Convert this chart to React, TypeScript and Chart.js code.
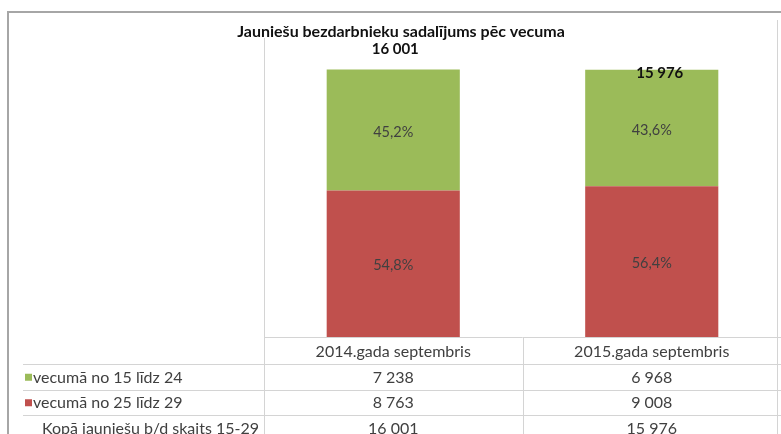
import React, { useEffect, useRef } from "react";
import { Chart, registerables } from "chart.js";

Chart.register(...registerables);

const chartTitle = "Jauniešu bezdarbnieku sadalījums pēc vecuma";
const categories = ["2014.gada septembris", "2015.gada septembris"];
const seriesYoung = "vecumā no 15 līdz 24";
const seriesOlder = "vecumā no 25 līdz 29";
const totalRowLabel = "Kopā jauniešu b/d skaits 15-29";
const youngValues = [7238, 6968];
const olderValues = [8763, 9008];
const totalValues = [16001, 15976];

const GREEN = "#9BBB59";
const RED = "#C0504D";
const TEXT = "#404040";
const GRID = "#d4d4d4";
const FONT = "Lato, 'Open Sans', sans-serif";

const fmtNum = (n: number) => String(n).replace(/\B(?=(\d{3})+(?!\d))/g, " ");
const fmtPct = (v: number, t: number) => ((v / t) * 100).toFixed(1).replace(".", ",") + "%";

const overlayPlugin = {
  id: "overlay",
  afterDraw(chart: any) {
    const ctx = chart.ctx as CanvasRenderingContext2D;
    const area = chart.chartArea;
    const W = chart.width;
    const H = chart.height;
    ctx.save();

    // outer frame
    ctx.strokeStyle = "#a6a6a6";
    ctx.lineWidth = 2;
    ctx.beginPath();
    ctx.moveTo(8, H);
    ctx.lineTo(8, 12);
    ctx.lineTo(W, 12);
    ctx.stroke();

    // title
    ctx.fillStyle = "#111";
    ctx.font = `bold 16px ${FONT}`;
    ctx.textAlign = "center";
    ctx.textBaseline = "middle";
    ctx.fillText(chartTitle, 401, 32);

    // table geometry
    const rowTop = area.bottom;
    const headerBottom = 364;
    const rowH = 25.5;
    const tableLeft = 23;
    const xs = categories.map((_, i) => chart.scales.x.getPixelForValue(i));
    const midX = (xs[0] + xs[1]) / 2;

    ctx.strokeStyle = GRID;
    ctx.lineWidth = 1;
    ctx.beginPath();
    ctx.moveTo(Math.round(area.left) + 0.5, 38);
    ctx.lineTo(Math.round(area.left) + 0.5, H);
    ctx.moveTo(Math.round(midX) + 0.5, rowTop);
    ctx.lineTo(Math.round(midX) + 0.5, H);
    ctx.moveTo(W - 3.5, 20);
    ctx.lineTo(W - 3.5, H);
    ctx.moveTo(area.left, Math.round(rowTop) + 0.5);
    ctx.lineTo(W, Math.round(rowTop) + 0.5);
    for (let r = 0; r < 3; r++) {
      const y = Math.round(headerBottom + r * rowH) + 0.5;
      ctx.moveTo(tableLeft, y);
      ctx.lineTo(W, y);
    }
    ctx.stroke();

    // header labels & values
    ctx.fillStyle = TEXT;
    ctx.font = `16px ${FONT}`;
    ctx.textAlign = "center";
    categories.forEach((c, i) => ctx.fillText(c, xs[i], (rowTop + headerBottom) / 2 + 1));
    const rows = [youngValues, olderValues, totalValues];
    rows.forEach((vals, r) => {
      const cy = headerBottom + r * rowH + rowH / 2 + 1;
      vals.forEach((v, i) => ctx.fillText(fmtNum(v), xs[i], cy));
    });

    // row labels
    ctx.textAlign = "left";
    ctx.font = `16px ${FONT}`;
    const rowLabels = [seriesYoung, seriesOlder, totalRowLabel];
    const keyColors = [GREEN, RED, null];
    rowLabels.forEach((l, r) => {
      const cy = headerBottom + r * rowH + rowH / 2 + 1;
      const kc = keyColors[r];
      if (kc) {
        ctx.fillStyle = kc;
        ctx.fillRect(tableLeft + 2, cy - 4, 7, 7);
        ctx.fillStyle = TEXT;
        ctx.fillText(l, tableLeft + 10, cy);
      } else {
        ctx.fillStyle = TEXT;
        ctx.fillText(l, tableLeft + 19, cy);
      }
    });

    // segment percentages
    ctx.textAlign = "center";
    ctx.fillStyle = TEXT;
    ctx.font = `14.5px ${FONT}`;
    chart.data.datasets.forEach((ds: any, di: number) => {
      const meta = chart.getDatasetMeta(di);
      meta.data.forEach((el: any, i: number) => {
        const v = ds.data[i];
        ctx.fillText(fmtPct(v, totalValues[i]), el.x, (el.y + el.base) / 2 + 2);
      });
    });

    // totals
    ctx.fillStyle = "#111";
    ctx.font = `bold 15px ${FONT}`;
    const topMeta = chart.getDatasetMeta(chart.data.datasets.length - 1);
    topMeta.data.forEach((el: any, i: number) => {
      const y = i === 0 ? el.y - 20 : el.y + 3;
      ctx.fillText(fmtNum(totalValues[i]), el.x + (i === 0 ? 2 : 8), y);
    });

    ctx.restore();
  },
};

export default function App() {
  const ref = useRef<HTMLCanvasElement | null>(null);
  useEffect(() => {
    if (!ref.current) return;
    const chart = new Chart(ref.current, {
      type: "bar",
      data: {
        labels: categories,
        datasets: [
          { label: seriesOlder, data: olderValues, backgroundColor: RED, stack: "s" },
          { label: seriesYoung, data: youngValues, backgroundColor: GREEN, stack: "s" },
        ],
      },
      options: {
        responsive: false,
        animation: false,
        layout: { padding: { left: 264, right: 0, top: 36, bottom: 97 } },
        plugins: { legend: { display: false }, title: { display: false }, tooltip: { enabled: false } },
        datasets: { bar: { categoryPercentage: 0.515, barPercentage: 1 } },
        scales: {
          x: { display: false, stacked: true },
          y: { display: false, stacked: true, min: 0, max: 18000 },
        },
      },
      plugins: [overlayPlugin],
    });
    return () => chart.destroy();
  }, []);
  return (
    <div style={{ position: "absolute", left: 0, top: 0, width: 781, height: 434, background: "#fff" }}>
      <canvas ref={ref} width={781} height={434} style={{ display: "block" }} />
    </div>
  );
}
